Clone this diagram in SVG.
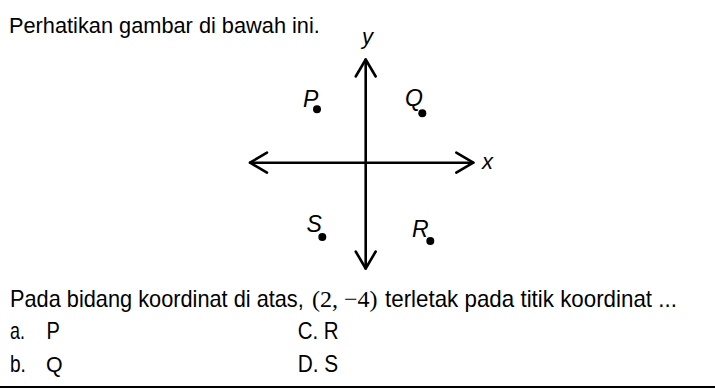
<svg xmlns="http://www.w3.org/2000/svg" width="715" height="390" viewBox="0 0 715 390">
<style>
.t{font-family:"Liberation Sans",Arial,sans-serif;font-size:23px;fill:#000}
.m{font-family:"Liberation Serif","Times New Roman",serif;font-size:24px;fill:#000}
.lbl{font-family:"Liberation Sans",Arial,sans-serif;font-size:23px;font-style:italic;fill:#000}
.ax{stroke:#000;stroke-width:2.6;fill:none;stroke-linecap:round;stroke-linejoin:round}
</style>
<rect width="715" height="390" fill="#fff"/>
<text class="t" transform="translate(9,32.5) scale(0.947,1)">Perhatikan gambar di bawah ini.</text>
<g id="axes">
<path class="ax" d="M365.7,59.5 V268.5 M250,162.7 H473.3"/>
<path class="ax" d="M355.7,76.5 L365.7,59.5 L375.7,76.5"/>
<path class="ax" d="M355.7,251.5 L365.7,268.5 L375.7,251.5"/>
<path class="ax" d="M267,152.7 L250,162.7 L267,172.7"/>
<path class="ax" d="M456.3,152.7 L473.3,162.7 L456.3,172.7"/>
<text class="lbl" x="362" y="44" style="font-size:22px">y</text>
<text class="lbl" x="482" y="168.5" style="font-size:22px">x</text>
</g>
<g id="P"><text class="lbl" x="303" y="107">P</text><circle cx="317" cy="109.3" r="4"/></g>
<g id="Q"><text class="lbl" x="405" y="106">Q</text><circle cx="422.3" cy="113.3" r="4"/></g>
<g id="S"><text class="lbl" x="306.5" y="232">S</text><circle cx="322.3" cy="237" r="4"/></g>
<g id="R"><text class="lbl" x="412" y="236.5">R</text><circle cx="430.3" cy="241" r="4"/></g>
<text class="t" transform="translate(10,306.5) scale(0.946,1)">Pada bidang koordinat di atas,</text>
<text class="m" x="312" y="306.5">(2, −4)</text>
<text class="t" transform="translate(385,306.5) scale(0.972,1)">terletak pada titik koordinat ...</text>
<text class="t" transform="translate(10,338.5) scale(0.78,1)">a.</text>
<text class="t" transform="translate(46.5,338.5) scale(0.87,1)">P</text>
<text class="t" transform="translate(10,371.5) scale(0.83,1)">b.</text>
<text class="t" transform="translate(46,371.5) scale(0.93,1)">Q</text>
<text class="t" transform="translate(297.7,338.5) scale(0.89,1)">C. R</text>
<text class="t" transform="translate(297.7,371.5) scale(0.906,1)">D. S</text>
<line x1="0" y1="387" x2="715" y2="387" stroke="#000" stroke-width="2"/>
</svg>
